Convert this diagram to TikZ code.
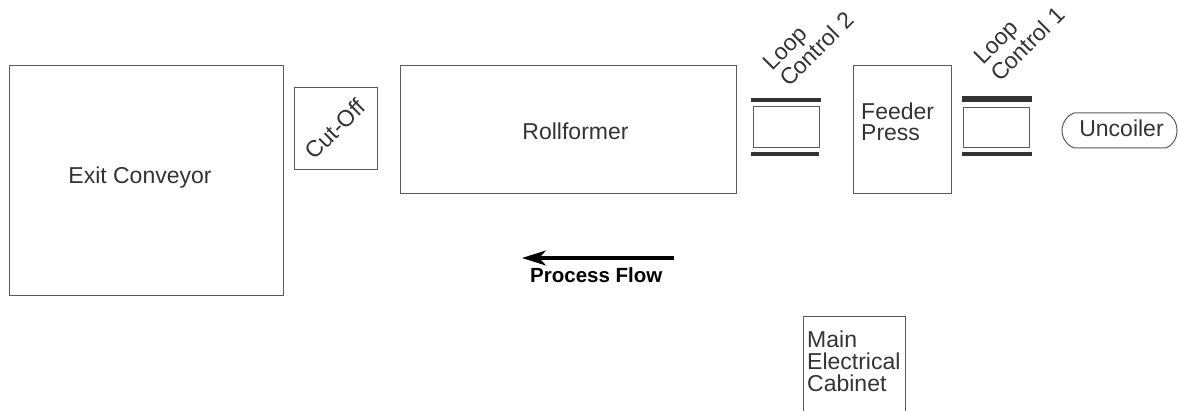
\documentclass[tikz,border=0pt]{standalone}
\usepackage{fontspec}
\setmainfont{Liberation Sans}
\usetikzlibrary{arrows.meta}
\definecolor{edge}{HTML}{5A5A5A}
\definecolor{ink}{HTML}{333333}
\definecolor{bar}{HTML}{333333}
\begin{document}
\begin{tikzpicture}[x=1pt,y=-1pt,
  box/.style={draw=edge,line width=1pt,inner sep=0pt,rectangle},
  lbl/.style={inner sep=0pt,text=ink,font=\fontsize{23}{22}\selectfont},
  lblL/.style={lbl,anchor=base west,align=left},
  barfill/.style={fill=bar,draw=none}]
\useasboundingbox (0,0) rectangle (1178,411);

% machine outlines
\node[box,minimum width=274pt,minimum height=230pt] (exit) at (146,181) {};
\node[box,minimum width=83pt,minimum height=82pt] (cutoff) at (335.5,129) {};
\node[box,minimum width=336pt,minimum height=128pt] (roll) at (568,130) {};
\node[box,minimum width=98pt,minimum height=128pt] (feeder) at (902,130) {};
\node[box,minimum width=66pt,minimum height=41pt] (lc2) at (786,127.5) {};
\node[box,minimum width=66pt,minimum height=40pt] (lc1) at (996,128) {};

% main electrical cabinet, open at the lower edge
\draw[edge,line width=1pt] (803,411) -- (803,317) -- (905,317) -- (905,411);

% loop control guide bars
\fill[barfill] (751,98) rectangle (821,102.5);
\fill[barfill] (751,152) rectangle (819,156.5);
\fill[barfill] (962,96.5) rectangle (1032,102.5);
\fill[barfill] (962,152) rectangle (1032,156.5);

% uncoiler outline
\draw[edge,line width=1pt] (1074,113) -- (1166,113)
  .. controls (1172,115) and (1177,122) .. (1177,130.5)
  .. controls (1177,139) and (1172,146) .. (1166,148)
  -- (1074,148)
  .. controls (1068,146) and (1062,139) .. (1062,130.5)
  .. controls (1062,122) and (1068,115) .. (1074,113) -- cycle;

% labels
\node[lbl,anchor=base] (exitT) at (140,184) {Exit Conveyor};
\node[lbl,rotate=45] (cutT) at (335,129) {Cut-Off};
\node[lbl,anchor=base] (rollT) at (575.5,139.3) {Rollformer};
\node[lblL] (feedT1) at (861,119.3) {Feeder};
\node[lblL] (feedT2) at (861,140.7) {Press};
\node[lblL] (mecT1) at (807,347.7) {Main};
\node[lblL] (mecT2) at (807,370) {Electrical};
\node[lblL] (mecT3) at (807,391.7) {Cabinet};
\node[lbl,anchor=base] (uncT) at (1121.5,137) {Uncoiler};
\node[lblL,rotate=45] (lc2a) at (772,72) {Loop};
\node[lblL,rotate=45] (lc2b) at (789,88) {Control 2};
\node[lblL,rotate=45] (lc1a) at (983,66) {Loop};
\node[lblL,rotate=45] (lc1b) at (1000,83) {Control 1};

% process direction
\coordinate (flowStart) at (674,258);
\coordinate (flowEnd) at (522,258);
\draw[line width=3.2pt,-{Stealth[length=24pt,width=15pt,inset=7pt]}] (flowStart) -- (flowEnd);
\node[inner sep=0pt,anchor=base west,font=\fontsize{20.5}{22}\selectfont\bfseries] (flowT) at (530,282.7) {Process Flow};
\end{tikzpicture}
\end{document}
